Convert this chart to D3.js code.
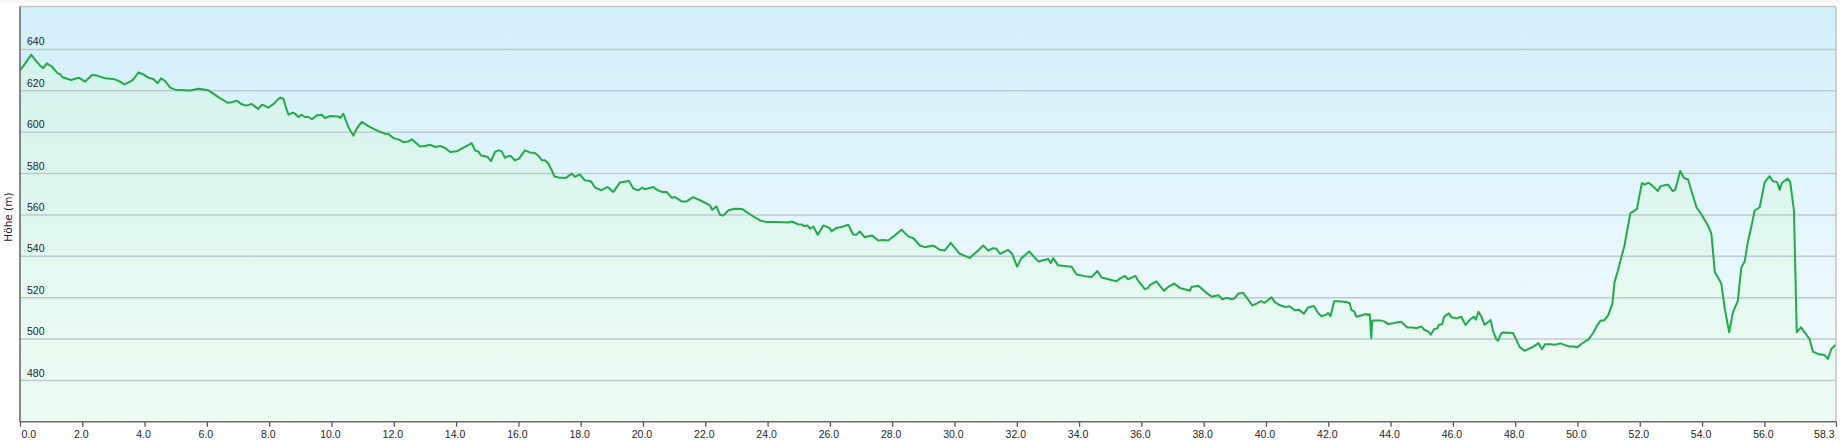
<!DOCTYPE html>
<html>
<head>
  <meta charset="utf-8">
  <script src="https://d3js.org/d3.v7.min.js"></script>
  <style>
    body { margin: 0; background: #fff; font-family: "DejaVu Sans", sans-serif; }
    svg { display: block; }
    .x-axis .domain, .y-axis .domain { display: none; }
    .x-axis text { font-size: 10.5px; fill: #1e1e2e; }
    .y-axis text { font-size: 10.5px; fill: #1e1e2e; }
    .y-axis .tick line { stroke: #bccbd0; stroke-width: 1.5; }
    .x-axis .tick line { stroke: #555; stroke-width: 1.3; }
  </style>
</head>
<body>
  <svg width="1840" height="445"></svg>
  <script>
    // distance (km) / elevation (m)
    const km = [
      0.00, 0.17, 0.36, 0.49, 0.65, 0.75, 0.86, 1.02, 1.21, 1.29, 1.36, 1.64, 1.88, 2.09, 2.31, 2.47, 2.73, 3.05, 3.21, 3.35,
      3.54, 3.64, 3.80, 3.93, 4.12, 4.28, 4.42, 4.53, 4.66, 4.82, 4.98, 5.46, 5.73, 6.05, 6.26, 6.42, 6.53, 6.66, 6.80, 6.96,
      7.10, 7.26, 7.44, 7.55, 7.65, 7.76, 7.85, 7.97, 8.14, 8.27, 8.36, 8.46, 8.53, 8.62, 8.75, 8.83, 8.94, 9.04, 9.15, 9.26,
      9.37, 9.53, 9.69, 9.79, 9.96, 10.22, 10.28, 10.38, 10.54, 10.70, 10.81, 10.97, 11.18, 11.50, 11.72, 11.83, 11.99, 12.15, 12.31, 12.47,
      12.58, 12.68, 12.84, 13.00, 13.16, 13.33, 13.49, 13.65, 13.81, 14.02, 14.18, 14.50, 14.61, 14.72, 14.80, 14.93, 15.02, 15.12, 15.25, 15.36,
      15.46, 15.57, 15.68, 15.76, 15.89, 16.02, 16.21, 16.37, 16.53, 16.64, 16.75, 16.85, 16.96, 17.07, 17.15, 17.33, 17.54, 17.71, 17.81, 17.97,
      18.13, 18.33, 18.46, 18.67, 18.86, 19.05, 19.26, 19.55, 19.69, 19.85, 19.98, 20.06, 20.33, 20.44, 20.60, 20.76, 20.92, 21.03, 21.24, 21.40,
      21.61, 21.88, 22.15, 22.22, 22.36, 22.47, 22.58, 22.74, 22.95, 23.19, 23.49, 23.76, 23.97, 24.34, 24.66, 24.77, 24.97, 25.09, 25.18, 25.28,
      25.36, 25.47, 25.61, 25.79, 26.00, 26.05, 26.21, 26.37, 26.59, 26.75, 26.85, 26.96, 27.12, 27.23, 27.36, 27.55, 27.71, 27.87, 28.08, 28.30,
      28.52, 28.68, 28.89, 29.05, 29.32, 29.53, 29.69, 29.88, 30.01, 30.17, 30.49, 30.76, 30.92, 31.08, 31.24, 31.35, 31.46, 31.72, 31.85, 32.01,
      32.15, 32.40, 32.69, 33.01, 33.09, 33.17, 33.32, 33.76, 33.92, 34.18, 34.40, 34.59, 34.72, 35.20, 35.31, 35.47, 35.57, 35.81, 35.89, 36.11,
      36.21, 36.27, 36.48, 36.73, 36.86, 37.05, 37.24, 37.56, 37.61, 37.83, 38.05, 38.26, 38.47, 38.60, 38.74, 38.90, 39.01, 39.11, 39.27, 39.56,
      39.70, 39.83, 39.96, 40.18, 40.28, 40.45, 40.63, 40.76, 40.92, 41.05, 41.22, 41.35, 41.54, 41.66, 41.78, 41.94, 41.99, 42.07, 42.19, 42.31,
      42.58, 42.69, 42.74, 42.83, 42.90, 43.11, 43.22, 43.28, 43.33, 43.38, 43.41, 43.70, 43.81, 43.91, 44.08, 44.24, 44.34, 44.54, 44.72, 44.83,
      44.99, 45.08, 45.21, 45.29, 45.40, 45.50, 45.55, 45.66, 45.72, 45.87, 45.96, 46.11, 46.27, 46.41, 46.57, 46.68, 46.74, 46.82, 46.91, 47.02,
      47.13, 47.21, 47.29, 47.39, 47.45, 47.55, 47.61, 47.93, 48.04, 48.14, 48.30, 48.57, 48.75, 48.86, 48.96, 49.16, 49.26, 49.35, 49.46, 49.58,
      49.74, 49.88, 50.00, 50.12, 50.23, 50.34, 50.50, 50.64, 50.74, 50.85, 50.98, 51.12, 51.19, 51.30, 51.41, 51.51, 51.62, 51.70, 51.81, 51.91,
      51.97, 52.07, 52.15, 52.28, 52.42, 52.58, 52.67, 52.90, 53.06, 53.14, 53.30, 53.42, 53.55, 53.82, 53.98, 54.19, 54.30, 54.41, 54.51, 54.62,
      54.73, 54.87, 54.99, 55.15, 55.26, 55.37, 55.47, 55.58, 55.69, 55.85, 56.01, 56.17, 56.27, 56.41, 56.49, 56.56, 56.75, 56.83, 56.95, 57.04,
      57.18, 57.29, 57.45, 57.56, 57.72, 57.93, 58.04, 58.15, 58.29
    ];
    const elev = [
      629.8, 633.0, 637.3, 634.7, 631.8, 630.7, 633.0, 631.5, 628.2, 627.8, 626.3, 625.0, 626.1, 624.2, 627.4, 627.1, 625.8, 625.3, 624.2, 622.9,
      624.2, 625.3, 628.6, 627.9, 626.1, 625.5, 623.4, 625.8, 624.5, 621.3, 620.3, 619.9, 620.8, 620.0, 617.8, 616.2, 615.3, 614.0, 614.2, 615.0,
      613.4, 612.6, 613.4, 612.1, 611.0, 613.0, 612.6, 611.6, 613.4, 615.5, 616.5, 615.8, 612.2, 608.2, 609.2, 608.7, 607.1, 608.2, 607.1, 607.1,
      606.0, 607.9, 608.2, 606.6, 607.6, 607.4, 606.6, 608.7, 602.3, 598.1, 601.5, 604.7, 602.7, 600.3, 599.0, 598.9, 596.9, 596.3, 595.0, 595.3,
      596.3, 595.0, 592.9, 593.1, 593.7, 592.6, 593.1, 592.1, 590.2, 590.5, 591.8, 594.5, 591.0, 590.3, 588.5, 588.1, 587.7, 585.8, 590.2, 591.0,
      590.6, 587.4, 588.2, 588.2, 586.1, 587.0, 591.0, 590.0, 589.7, 588.4, 586.2, 586.2, 584.6, 581.4, 578.5, 577.7, 577.8, 579.8, 578.2, 579.3,
      576.5, 576.0, 573.0, 571.7, 573.3, 570.9, 575.4, 576.2, 572.5, 571.7, 573.0, 572.2, 573.3, 572.0, 570.9, 570.9, 568.1, 568.4, 566.3, 566.3,
      568.4, 566.5, 564.4, 562.3, 563.9, 559.9, 559.5, 562.0, 562.8, 562.6, 559.5, 557.1, 556.3, 556.3, 556.1, 556.6, 555.3, 555.2, 554.4, 554.7,
      553.1, 554.2, 550.2, 554.7, 553.4, 551.8, 553.5, 553.9, 555.0, 550.3, 550.2, 551.8, 549.0, 549.5, 549.8, 547.4, 547.7, 547.4, 549.8, 552.6,
      549.4, 548.5, 545.0, 544.2, 545.0, 542.9, 542.6, 546.3, 543.9, 541.0, 539.0, 542.6, 545.0, 542.6, 543.7, 543.4, 541.0, 542.9, 541.0, 534.8,
      538.9, 542.1, 537.3, 538.5, 536.5, 538.9, 535.5, 534.7, 531.0, 530.2, 529.8, 532.7, 529.5, 527.7, 529.0, 530.3, 528.7, 530.3, 528.2, 523.9,
      524.5, 525.8, 527.7, 523.1, 525.0, 526.6, 524.5, 523.1, 525.0, 525.5, 522.6, 520.2, 521.0, 519.0, 519.7, 519.0, 519.7, 521.8, 522.1, 516.1,
      516.9, 518.1, 517.3, 520.0, 517.7, 516.1, 515.3, 515.6, 513.7, 514.0, 512.1, 515.0, 515.8, 512.7, 510.8, 511.6, 512.4, 510.8, 518.1, 518.1,
      517.7, 517.1, 513.9, 513.2, 510.6, 511.4, 511.9, 511.4, 511.9, 500.3, 508.7, 508.7, 508.2, 507.1, 507.4, 507.9, 508.2, 505.4, 505.4, 505.0,
      505.9, 504.3, 503.5, 501.9, 504.6, 505.0, 506.6, 507.1, 510.6, 512.2, 510.3, 509.8, 510.6, 506.6, 509.5, 510.6, 509.2, 513.0, 510.8, 506.7,
      507.9, 509.0, 503.8, 499.8, 499.0, 502.5, 503.0, 502.7, 499.4, 496.0, 494.1, 496.0, 497.8, 494.9, 497.3, 497.3, 497.0, 497.3, 497.7, 497.0,
      496.2, 496.2, 495.8, 497.4, 498.5, 499.4, 502.6, 506.6, 508.7, 508.7, 511.1, 516.8, 527.3, 532.9, 539.4, 545.0, 554.2, 560.6, 561.6, 562.7,
      567.6, 575.2, 574.4, 575.3, 573.7, 571.3, 573.7, 574.5, 571.3, 571.9, 581.0, 577.6, 576.9, 563.5, 560.0, 554.7, 550.6, 532.1, 529.7, 526.5,
      514.4, 503.1, 512.7, 518.4, 534.5, 537.3, 546.6, 553.9, 561.9, 563.5, 575.6, 578.5, 576.1, 575.6, 571.9, 575.2, 577.3, 575.6, 561.9, 503.1,
      505.5, 503.1, 499.8, 493.7, 492.6, 492.1, 490.2, 495.0, 497.1
    ];
    const xTicks = [0, 2, 4, 6, 8, 10, 12, 14, 16, 18, 20, 22, 24, 26, 28, 30, 32, 34, 36, 38, 40, 42, 44, 46, 48, 50, 52, 54, 56, 58.3];
    const yTicks = [480, 500, 520, 540, 560, 580, 600, 620, 640];
    const yLabel = 'Höhe (m)';

    const data = km.map((d, i) => ({ km: d, h: elev[i] }));

    const svg = d3.select('svg');
    const margin = { left: 20, right: 4, top: 6.5, bottom: 23.3 };
    const innerWidth = 1840 - margin.left - margin.right;
    const innerHeight = 445 - margin.top - margin.bottom;

    // light strip at very top
    svg.append('rect')
      .attr('x', 0).attr('y', 0)
      .attr('width', 1840).attr('height', 3)
      .attr('fill', '#f6f6f6');

    const defs = svg.append('defs');
    const bg = defs.append('linearGradient')
      .attr('id', 'bg').attr('x1', 0).attr('y1', 0).attr('x2', 0).attr('y2', 1);
    bg.append('stop').attr('offset', '0%').attr('stop-color', '#d1eff9');
    bg.append('stop').attr('offset', '100%').attr('stop-color', '#f6fcfe');

    const ag = defs.append('linearGradient')
      .attr('id', 'areaGrad').attr('gradientUnits', 'userSpaceOnUse')
      .attr('x1', 0).attr('y1', 0).attr('x2', 0).attr('y2', innerHeight);
    ag.append('stop').attr('offset', '0%').attr('stop-color', '#d0f2ec');
    ag.append('stop').attr('offset', '100%').attr('stop-color', '#eefcf3');

    const g = svg.append('g')
      .attr('transform', `translate(${margin.left},${margin.top})`);

    g.append('rect')
      .attr('width', innerWidth)
      .attr('height', innerHeight)
      .attr('fill', 'url(#bg)');

    const xScale = d3.scaleLinear()
      .domain([0, 58.3])
      .range([0, innerWidth]);

    const yScale = d3.scaleLinear()
      .domain([459.85, 660.5])
      .range([innerHeight, 0]);

    //area under the profile
    const area = d3.area()
      .x(d => xScale(d.km))
      .y0(innerHeight)
      .y1(d => yScale(d.h));

    g.append('path')
      .datum(data)
      .attr('d', area)
      .attr('fill', 'url(#areaGrad)');

    //grid + y labels
    const yAxis = d3.axisLeft(yScale)
      .tickValues(yTicks)
      .tickSize(-innerWidth)
      .tickFormat(d3.format('d'));

    const yAxisG = g.append('g')
      .attr('class', 'y-axis')
      .call(yAxis);

    yAxisG.selectAll('.tick text')
      .attr('x', 7)
      .attr('dy', -4)
      .attr('text-anchor', 'start');

    //profile line
    const line = d3.line()
      .x(d => xScale(d.km))
      .y(d => yScale(d.h));

    g.append('path')
      .datum(data)
      .attr('d', line)
      .attr('fill', 'none')
      .attr('stroke', '#22ab4a')
      .attr('stroke-width', 2)
      .attr('stroke-linejoin', 'round');

    //frame
    g.append('line')
      .attr('x1', 0).attr('x2', innerWidth)
      .attr('y1', 0).attr('y2', 0)
      .attr('stroke', '#c4c4c4').attr('stroke-width', 1.5);
    g.append('line')
      .attr('x1', innerWidth).attr('x2', innerWidth)
      .attr('y1', 0).attr('y2', innerHeight)
      .attr('stroke', '#c4c4c4').attr('stroke-width', 1.5);
    g.append('line')
      .attr('x1', 0).attr('x2', 0)
      .attr('y1', 0).attr('y2', innerHeight)
      .attr('stroke', '#6a6a6a').attr('stroke-width', 1.6);

    //x axis
    const xAxis = d3.axisBottom(xScale)
      .tickValues(xTicks)
      .tickSize(5)
      .tickPadding(4)
      .tickFormat(d3.format('.1f'));

    const xAxisG = g.append('g')
      .attr('class', 'x-axis')
      .attr('transform', `translate(0,${innerHeight})`)
      .call(xAxis);

    xAxisG.append('line')
      .attr('x1', 0).attr('x2', innerWidth)
      .attr('stroke', '#6a6a6a').attr('stroke-width', 1.6);

    xAxisG.selectAll('.tick text')
      .attr('text-anchor', (d, i) => i === 0 ? 'start' : (i === xTicks.length - 1 ? 'end' : 'middle'))
      .attr('dx', (d, i) => i === 0 ? 1 : (i === xTicks.length - 1 ? -2 : -1.5));

    //y axis title
    svg.append('text')
      .attr('transform', `translate(11.5,${margin.top + innerHeight / 2 + 3}) rotate(-90)`)
      .attr('text-anchor', 'middle')
      .style('font-size', '10.5px')
      .style('fill', '#1e1e2e')
      .text(yLabel);
  </script>
</body>
</html>
